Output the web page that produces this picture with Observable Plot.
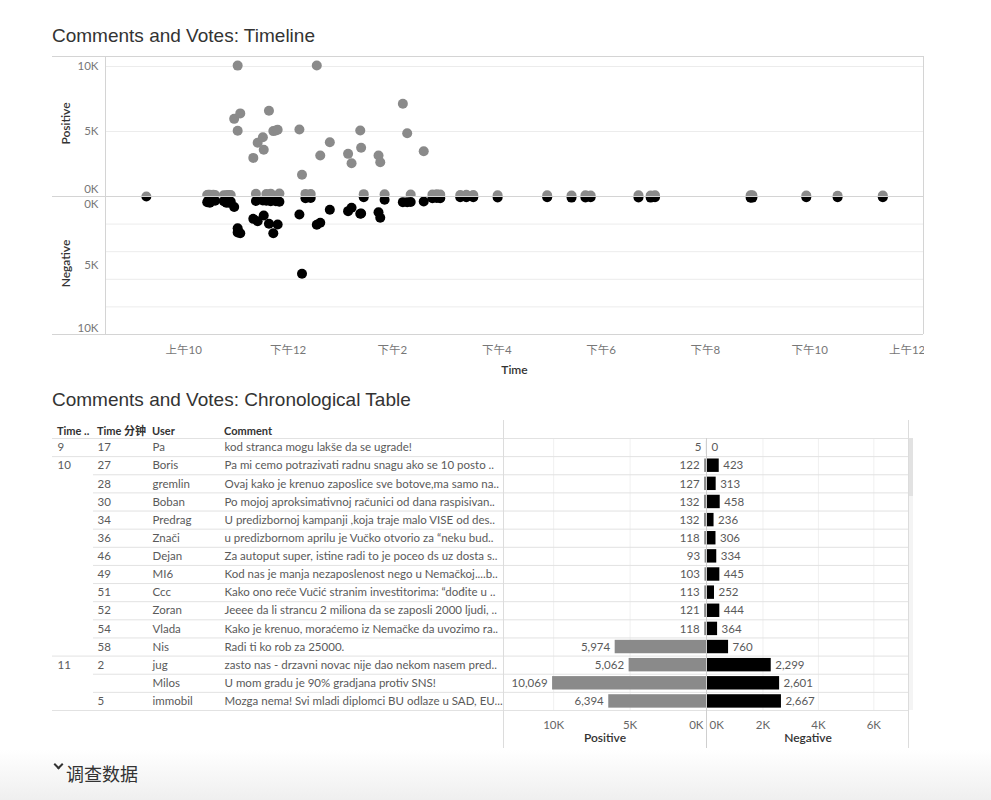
<!DOCTYPE html>
<html><head><meta charset="utf-8">
<script src="https://cdn.jsdelivr.net/npm/d3@7"></script>
<script src="https://cdn.jsdelivr.net/npm/@observablehq/plot@0.6"></script>
<style>
body{margin:0;background:#fff;font-family:Lato,"Noto Sans CJK SC",sans-serif;}
#page{position:relative;width:991px;height:800px;overflow:hidden;background:#fff;}
.abs{position:absolute;}
.title{font-family:"Liberation Sans",Arial,"Noto Sans CJK SC",sans-serif;font-size:19px;line-height:20px;color:#333;white-space:nowrap;}
.hdr{font-size:11px;line-height:14px;font-weight:bold;color:#333;white-space:nowrap;}
.vline{background:#dcdcdc;width:1px;}
</style></head><body>
<div id="page">
  <div class="abs title" style="left:52px;top:26px;">Comments and Votes: Timeline</div>
  <div id="tlPos" class="abs" style="left:52px;top:56px;"></div>
  <div id="tlNeg" class="abs" style="left:52px;top:196px;"></div>
  <div class="abs title" style="left:52px;top:390px;">Comments and Votes: Chronological Table</div>
  <div class="abs hdr" style="left:57px;top:424px;">Time ..</div>
  <div class="abs hdr" style="left:97px;top:424px;">Time 分钟</div>
  <div class="abs hdr" style="left:152px;top:424px;">User</div>
  <div class="abs hdr" style="left:224px;top:424px;">Comment</div>
  <div id="tblText" class="abs" style="left:52px;top:438px;"></div>
  <div id="tblPos" class="abs" style="left:503px;top:438px;"></div>
  <div id="tblNeg" class="abs" style="left:707px;top:438px;"></div>
  <div class="abs vline" style="left:503px;top:420px;height:328px;"></div>
  <div class="abs vline" style="left:908px;top:420px;height:328px;"></div>
  <div class="abs" style="left:909px;top:438px;width:4px;height:272px;background:#f4f4f4;"></div>
  <div class="abs" style="left:909px;top:438px;width:4px;height:58px;background:#e2e2e2;"></div>
  <div class="abs" style="left:0;top:750px;width:991px;height:50px;background:linear-gradient(to bottom,#ffffff,#efefef);"></div>
  <div class="abs" style="left:55px;top:761px;width:5px;height:5px;border-right:2px solid #333;border-bottom:2px solid #333;transform:rotate(45deg);"></div>
  <div class="abs" style="left:66px;top:762px;font-family:'Noto Sans CJK SC',sans-serif;font-size:18px;line-height:22px;color:#333;">调查数据</div>
</div>
<script>
// ---------- Timeline data (one entry per comment) ----------
const commentTimes = [
  "9:17","10:27","10:28","10:30","10:34","10:36","10:46","10:49","10:51","10:52","10:54","10:58","11:02","11:02","11:05",
  "11:20","11:23","11:25","11:31","11:32","11:35","11:38","11:40","11:43","11:46","11:48","11:50",
  "12:13","12:16","12:20","12:26","12:33","12:37","12:48",
  "13:09","13:13","13:23","13:24","13:27","13:44","13:46","13:51",
  "14:12","14:17","14:21","14:36","14:46","14:51","14:55",
  "15:18","15:25","15:33","16:01","16:58","17:26","17:42","17:48","18:43","18:57","19:02","20:52","20:54","21:56","22:32","23:24"];
const positiveVotes = [
  5,122,127,132,132,118,93,103,113,121,118,5974,5062,10069,6394,
  2970,210,4130,4560,3590,190,6590,220,5030,5080,5130,230,
  5150,1670,200,190,10080,3150,4180,
  3280,2560,5080,3750,180,3150,2640,170,
  7130,4870,150,3480,160,170,150,
  120,130,110,100,90,80,90,80,90,80,90,100,90,70,60,70];
const negativeVotes = [
  0,423,313,458,236,306,334,445,252,444,364,760,2299,2601,2667,
  1620,330,1790,290,1380,300,1980,350,2660,340,2030,380,
  1300,5600,130,110,2050,1900,960,
  1060,820,1250,1230,50,1140,1540,240,
  410,420,400,360,120,110,130,
  60,50,60,70,60,80,70,60,70,80,60,90,80,60,50,60];
const timeTickValues = [10,12,14,16,18,20,22,24];
const timeTickLabels = ["上午10","下午12","下午2","下午4","下午6","下午8","下午10","上午12"];

// ---------- Table data ----------
const tableHour = [9,10,10,10,10,10,10,10,10,10,10,10,11,11,11];
const tableMinute = [17,27,28,30,34,36,46,49,51,52,54,58,2,2,5];
const tableUser = ["Pa","Boris","gremlin","Boban","Predrag","Znači","Dejan","MI6","Ccc","Zoran","Vlada","Nis","jug","Milos","immobil"];
const tableComment = [
  "kod stranca mogu lakše da se ugrade!",
  "Pa mi cemo potrazivati radnu snagu ako se 10 posto ..",
  "Ovaj kako je krenuo zaposlice sve botove,ma samo na..",
  "Po mojoj aproksimativnoj računici od dana raspisivan..",
  "U predizbornoj kampanji ,koja traje malo VISE od des..",
  "u predizbornom aprilu je Vučko otvorio za “neku bud..",
  "Za autoput super, istine radi to je poceo ds uz dosta s..",
  "Kod nas je manja nezaposlenost nego u Nemačkoj....b..",
  "Kako ono reče Vučić stranim investitorima: “dođite u ..",
  "Jeeee da li strancu 2 miliona da se zaposli 2000 ljudi, ..",
  "Kako je krenuo, moraćemo iz Nemačke da uvozimo ra..",
  "Radi ti ko rob za 25000.",
  "zasto nas - drzavni novac nije dao nekom nasem pred..",
  "U mom gradu je 90% gradjana protiv SNS!",
  "Mozga nema! Svi mladi diplomci BU odlaze u SAD, EU..."];
const tablePositive = [5,122,127,132,132,118,93,103,113,121,118,5974,5062,10069,6394];
const tableNegative = [0,423,313,458,236,306,334,445,252,444,364,760,2299,2601,2667];
const posAxisTicks = [0,5000,10000];
const negAxisTicks = [0,2000,4000,6000];

// ---------- build ----------
const fontUI = 'Lato, "Noto Sans CJK SC", sans-serif';
const hoursOf = s => { const [h, m] = s.split(":").map(Number); return h + m / 60; };
const timeline = commentTimes.map((s, i) => ({t: hoursOf(s), pos: positiveVotes[i], neg: negativeVotes[i]}));
const kFmt = d => d / 1000 + "K";
const timeFmt = d => timeTickLabels[timeTickValues.indexOf(d)];
const xDomain = [8.5, 24.18];
const grid = "#ececec", frameC = "#d4d4d4";
const baseStyle = {fontFamily: fontUI, fontSize: "11.5px", color: "#777", background: "transparent", overflow: "hidden"};
const titleText = {fill: "#333", fontWeight: 600, fontSize: 12};

const tlPos = Plot.plot({
  width: 872, height: 140, marginLeft: 53, marginRight: 1, marginTop: 0, marginBottom: 0,
  x: {domain: xDomain, axis: null},
  y: {domain: [0, 10770], axis: null},
  style: baseStyle,
  marks: [
    Plot.gridY([5000, 10000], {stroke: grid, strokeOpacity: 1}),
    Plot.ruleY([10770], {stroke: frameC, insetLeft: -53}),
    Plot.ruleX([xDomain[0]], {stroke: frameC}),
    Plot.ruleX([xDomain[1]], {stroke: frameC}),
    Plot.axisY([5000, 10000], {tickSize: 0, tickPadding: 7, tickFormat: kFmt, label: null}),
    Plot.axisY([0], {tickSize: 0, tickPadding: 7, dy: -7, tickFormat: kFmt, label: null}),
    Plot.text(["Positive"], {frameAnchor: "left", rotate: -90, dx: -39, dy: -3, textAnchor: "middle", text: d => d, ...titleText}),
    Plot.dot(timeline, {x: "t", y: "pos", r: 5, fill: "#8a8a8a"})
  ]
});
document.getElementById("tlPos").append(tlPos);

const tlNeg = Plot.plot({
  width: 872, height: 183, marginLeft: 53, marginRight: 1, marginTop: 0, marginBottom: 45,
  x: {domain: xDomain, axis: null},
  y: {domain: [0, 10000], reverse: true, axis: null},
  style: baseStyle,
  marks: [
    Plot.gridY([2000, 4000, 6000, 8000], {stroke: grid, strokeOpacity: 1}),
    Plot.ruleX([xDomain[0]], {stroke: frameC}),
    Plot.ruleX([xDomain[1]], {stroke: frameC}),
    Plot.axisY([5000], {tickSize: 0, tickPadding: 7, tickFormat: kFmt, label: null}),
    Plot.axisY([0], {tickSize: 0, tickPadding: 7, dy: 8, tickFormat: kFmt, label: null}),
    Plot.axisY([10000], {tickSize: 0, tickPadding: 7, dy: -6, tickFormat: kFmt, label: null}),
    Plot.axisX(timeTickValues.slice(0, -1), {tickSize: 0, tickPadding: 11, tickFormat: timeFmt, label: null}),
    Plot.axisX(timeTickValues.slice(-1), {tickSize: 0, tickPadding: 11, tickFormat: timeFmt, label: null, dx: -7}),
    Plot.text(["Time"], {frameAnchor: "bottom", dy: 39, text: d => d, ...titleText}),
    Plot.text(["Negative"], {frameAnchor: "left", rotate: -90, dx: -39, dy: -2, textAnchor: "middle", text: d => d, ...titleText}),
    Plot.dot(timeline, {x: "t", y: "neg", r: 5, fill: "#000"}),
    Plot.ruleY([0], {stroke: frameC, insetLeft: -53}),
    Plot.ruleY([10000], {stroke: frameC, insetLeft: -53})
  ]
});
document.getElementById("tlNeg").append(tlNeg);

// table rows
const rows = tableUser.map((u, i) => {
  const newGroup = i === 0 || tableHour[i] !== tableHour[i - 1];
  return {
    i, user: u, comment: tableComment[i], pos: tablePositive[i], neg: tableNegative[i],
    hourLabel: newGroup ? String(tableHour[i]) : "",
    minuteLabel: newGroup || tableMinute[i] !== tableMinute[i - 1] ? String(tableMinute[i]) : ""
  };
});
const nRows = rows.length;
const bounds = [{b: 0, full: true}].concat(rows.map((r, i) => ({
  b: i + 1, full: i === nRows - 1 || tableHour[i + 1] !== tableHour[i]
})));
const rowLine = "#e2e2e2";
const tableStyle = {fontFamily: fontUI, fontSize: "11.5px", color: "#666", background: "transparent", overflow: "hidden"};
const yRows = {domain: [0, nRows], reverse: true, axis: null};
const mid = d => d.i + 0.5;
const cellText = "#5a5a5a";

const tblText = Plot.plot({
  width: 451, height: 310, marginLeft: 0, marginRight: 0, marginTop: 0, marginBottom: 38,
  y: yRows, style: tableStyle,
  marks: [
    Plot.ruleY(bounds.filter(d => d.full), {y: "b", stroke: rowLine}),
    Plot.ruleY(bounds.filter(d => !d.full), {y: "b", stroke: rowLine, insetLeft: 41}),
    Plot.text(rows, {y: mid, text: "hourLabel", frameAnchor: "left", dx: 5, textAnchor: "start", fill: cellText}),
    Plot.text(rows, {y: mid, text: "minuteLabel", frameAnchor: "left", dx: 45, textAnchor: "start", fill: cellText}),
    Plot.text(rows, {y: mid, text: "user", frameAnchor: "left", dx: 100, textAnchor: "start", fill: cellText}),
    Plot.text(rows, {y: mid, text: "comment", frameAnchor: "left", dx: 172, textAnchor: "start", fill: cellText})
  ]
});
document.getElementById("tblText").append(tblText);

const numFmt = d3.format(",");
const tblPos = Plot.plot({
  width: 204, height: 310, marginLeft: 0, marginRight: 1, marginTop: 0, marginBottom: 38,
  x: {domain: [0, 13280], reverse: true, axis: null},
  y: yRows, style: tableStyle,
  marks: [
    Plot.gridX(posAxisTicks.slice(1), {stroke: "#f0f0f0", strokeOpacity: 1}),
    Plot.ruleY(bounds, {y: "b", stroke: rowLine}),
    Plot.rectX(rows, {x: "pos", y1: d => d.i + 0.13, y2: d => d.i + 0.87, fill: "#8a8a8a"}),
    Plot.text(rows, {x: "pos", y: mid, text: d => numFmt(d.pos), textAnchor: "end", dx: -5, fill: cellText}),
    Plot.ruleX([0], {stroke: "#cfcfcf", insetBottom: -38}),
    Plot.axisX(posAxisTicks.slice(1), {tickSize: 0, tickPadding: 10, tickFormat: kFmt, label: null}),
    Plot.axisX(posAxisTicks.slice(0, 1), {tickSize: 0, tickPadding: 10, tickFormat: kFmt, label: null, textAnchor: "end", dx: -3}),
    Plot.text(["Positive"], {frameAnchor: "bottom", dy: 31, text: d => d, ...titleText})
  ]
});
document.getElementById("tblPos").append(tblPos);

const tblNeg = Plot.plot({
  width: 201, height: 310, marginLeft: 0, marginRight: 0, marginTop: 0, marginBottom: 38,
  x: {domain: [0, 7250], axis: null},
  y: yRows, style: tableStyle,
  marks: [
    Plot.gridX(negAxisTicks.slice(1), {stroke: "#f0f0f0", strokeOpacity: 1}),
    Plot.ruleY(bounds, {y: "b", stroke: rowLine}),
    Plot.rectX(rows, {x: "neg", y1: d => d.i + 0.13, y2: d => d.i + 0.87, fill: "#000"}),
    Plot.text(rows, {x: "neg", y: mid, text: d => numFmt(d.neg), textAnchor: "start", dx: 4, fill: cellText}),
    Plot.axisX(negAxisTicks.slice(1), {tickSize: 0, tickPadding: 10, tickFormat: kFmt, label: null}),
    Plot.axisX(negAxisTicks.slice(0, 1), {tickSize: 0, tickPadding: 10, tickFormat: kFmt, label: null, textAnchor: "start", dx: 2}),
    Plot.text(["Negative"], {frameAnchor: "bottom", dy: 31, text: d => d, ...titleText})
  ]
});
document.getElementById("tblNeg").append(tblNeg);
</script>
</body></html>
